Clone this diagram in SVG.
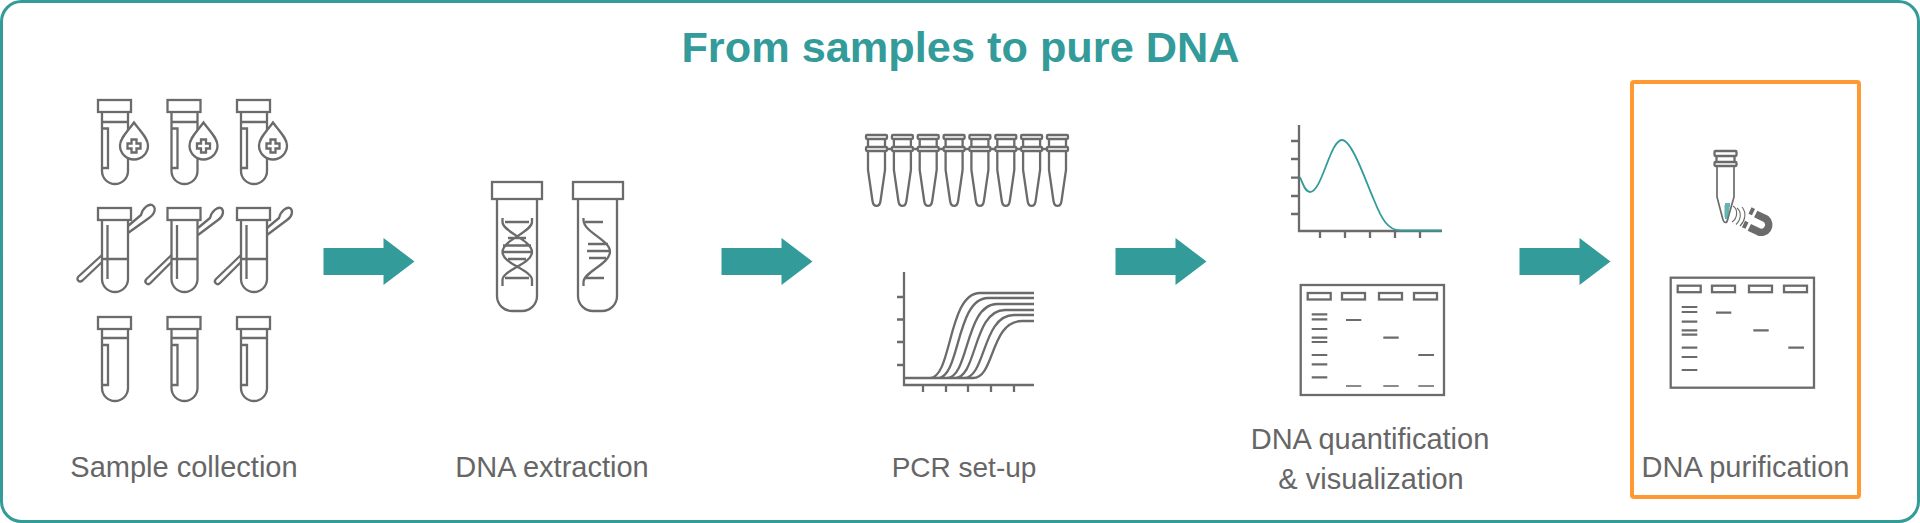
<svg xmlns="http://www.w3.org/2000/svg" xmlns:xlink="http://www.w3.org/1999/xlink" width="1920" height="523" viewBox="0 0 1920 523">
<style>
.l{fill:none;stroke:#6b6b6b;stroke-width:2.300}
.t{fill:none;stroke:#6b6b6b;stroke-width:1.700}
.lb{font-family:"Liberation Sans",Arial,sans-serif;font-size:29px;fill:#666;text-anchor:middle}
.b{stroke:#6b6b6b;stroke-width:2.200;fill:none}
.b2{stroke:#8a8a8a;stroke-width:1.800;fill:none}
</style>
<defs>
<g id="tube"><rect class="l" x="98" y="100" width="33" height="12"/><path class="l" d="M102 112V171A13 13 0 0 0 128 171V112M102 122H128"/></g>
<g id="blood"><use href="#tube"/><path class="l" d="M102 128.500H108V168H102"/><path d="M134 122.500C128 131 120 138 120 145.500A14 14 0 0 0 148 145.500C148 138 140 131 134 122.500Z" fill="#fff" stroke="#6b6b6b" stroke-width="2.300"/><path class="l" d="M131.500 139.500H136.500V143.500H140.500V148.500H136.500V152.500H131.500V148.500H127.500V143.500H131.500Z"/></g>
<g id="blank"><rect class="l" x="98" y="317" width="33" height="12"/><path class="l" d="M102 329V388A13 13 0 0 0 128 388V329M102 338H128M102 345H108V385H102"/></g>
<g id="swabtube"><rect class="l" x="98" y="208" width="33" height="12"/><path class="l" d="M102 220V279A13 13 0 0 0 128 279V220M102 259H128M107.500 225V279"/></g>
<g id="pcr"><rect class="l" x="866" y="135" width="21" height="4" rx="1"/><path class="l" d="M868 139V147M885 139V147"/><rect class="l" x="866" y="147" width="21" height="4" rx="1"/><path class="l" d="M868 151V170L872.500 201C873.500 207.500 879.500 207.500 880.500 201L885 170V151"/></g>
<g id="gel"><rect class="l" x="1300.700" y="285" width="143.300" height="110"/>
<g class="l"><rect x="1307.700" y="293" width="23" height="6.500"/><rect x="1342" y="293" width="23" height="6.500"/><rect x="1379" y="293" width="23" height="6.500"/><rect x="1414" y="293" width="23" height="6.500"/></g>
<path class="b" d="M1311.700 314.300H1327.300M1311.700 319.300H1327.300M1311.700 329H1327.300M1311.700 337.700H1327.300M1311.700 342H1327.300M1311.700 355H1327.300M1311.700 364.300H1327.300M1311.700 377.300H1327.300M1346 320H1361.300M1383.300 337.700H1398.700M1418.300 355H1434"/></g>
<path id="arrow" d="M323.500 248H383.500V238L414.500 261.500L383.500 285V275H323.500Z" fill="#339b99"/>
</defs>
<rect id="frame" x="1.500" y="1.500" width="1917" height="520" rx="20" fill="#fff" stroke="#339b99" stroke-width="3"/>
<text id="title" x="960.500" y="62" font-family="&quot;Liberation Sans&quot;,Arial,sans-serif" font-weight="700" font-size="43.300px" fill="#339b99" text-anchor="middle">From samples to pure DNA</text>
<g id="connectors"><use href="#arrow"/><use href="#arrow" x="398"/><use href="#arrow" x="792"/><use href="#arrow" x="1196"/></g>
<g id="sample-collection">
<use href="#blood"/><use href="#blood" x="69.500"/><use href="#blood" x="139"/>
<g id="swabs">
<g id="s1"><path class="l" d="M102 255L78.500 276.500C75.500 279.500 79.500 283 82.500 280.500L102 262"/><path class="l" d="M128 226L141 215C143 207 149 204 152 205C156 207 156 213 149 218L128 233"/></g>
<g id="s2"><path class="l" d="M171.500 255L146.500 279C143.500 282 147.500 286 150.500 283L171.500 262"/><path class="l" d="M198 228L210 218C212 210 218 207 221 208C224 210 224 216 218 220L198 235"/></g>
<g id="s3"><path class="l" d="M241 255L216 279C213 282 217 286 220 283L241 262"/><path class="l" d="M267 228L279 218C281 210 287 207 290 208C293 210 293 216 287 220L267 235"/></g>
</g>
<use href="#swabtube"/><use href="#swabtube" x="69.500"/><use href="#swabtube" x="139"/>
<use href="#blank"/><use href="#blank" x="69.500"/><use href="#blank" x="139"/>
<text class="lb" x="184" y="477">Sample collection</text>
</g>
<g id="dna-extraction">
<rect class="l" x="492" y="182" width="50" height="17"/><path class="l" d="M497 199V296A15 15 0 0 0 512 311H522A15 15 0 0 0 537 296V199"/>
<path class="l" d="M502.500 218V222C502.500 232 532 240 532 252C532 264 502.500 270 502.500 280V286M532 218V222C532 232 502.500 240 502.500 252C502.500 264 532 270 532 280V286M505 222H529M508 238H526M503 245.500H531M503 252H531M508 259H526M505 278H529"/>
<rect class="l" x="573" y="182" width="50" height="17"/><path class="l" d="M578 199V296A15 15 0 0 0 593 311H602A15 15 0 0 0 617 296V199"/>
<path class="l" d="M583.500 218V220C583.500 232 610 240 610 251.500C610 264 583.500 272 583.500 282V286M585 222H603M588 244H608M587 251H609M589 258H606M585 278H604"/>
<text class="lb" x="552" y="477">DNA extraction</text>
</g>
<g id="pcr-setup">
<path class="l" d="M887 149H892M913 149H918M939 149H944M965 149H970M991 149H996M1017 149H1022M1043 149H1048"/>
<use href="#pcr"/><use href="#pcr" x="25.900"/><use href="#pcr" x="51.700"/><use href="#pcr" x="77.600"/><use href="#pcr" x="103.400"/><use href="#pcr" x="129.300"/><use href="#pcr" x="155.100"/><use href="#pcr" x="181"/>
<path class="l" d="M904 272V385H1034M897 297H904M897 319.500H904M897 342H904M897 365H904M923 385V392M946 385V392M968 385V392M991 385V392M1014 385V392"/>
<path class="l" d="M904 378H930C952 378 948 293 980 293H1034M904 378H938C960 378 956 298 988 298H1034M904 378H947C969 378 965 304 997 304H1034M904 378H955C977 378 973 310 1005 310H1034M904 378H964C986 378 982 315 1014 315H1034M904 378H973C995 378 990 321 1022 321H1034"/>
<text class="lb" x="964" y="477" style="font-size:28px">PCR set-up</text>
</g>
<g id="quantification">
<path class="l" d="M1299 125V231H1442M1291 141H1299M1291 159H1299M1291 177.700H1299M1291 196H1299M1291 214H1299M1320 231V238M1345 231V238M1370 231V238M1395 231V238M1420 231V238"/>
<path d="M1300 177C1303 184 1305 192 1310 192C1322 192 1330 140 1342 140C1352 140 1366 182 1374 200C1382 220 1388 230 1400 230.500H1442" fill="none" stroke="#339b99" stroke-width="1.800"/>
<use href="#gel"/>
<path class="b2" d="M1346 386H1361.300M1383.300 386H1398.700M1418.300 386H1434"/>
<text class="lb" x="1370" y="449">DNA quantification</text>
<text class="lb" x="1371" y="489">&amp; visualization</text>
</g>
<g id="purification">
<rect x="1632" y="82" width="227" height="415" rx="2" fill="none" stroke="#ff9a33" stroke-width="4"/>
<rect class="l" x="1714.500" y="151" width="22" height="5" rx="1"/><path class="l" d="M1716.500 156V162M1734.500 156V162"/><rect class="l" x="1714.500" y="162" width="22" height="4" rx="1"/>
<path class="t" d="M1717 166V197L1722.500 218C1724 224 1727 224 1728 218L1734 197V166"/>
<path d="M1725 204H1730M1724.500 206H1730M1724.500 208H1729.500M1724.500 210H1729M1724.500 212H1729M1724.500 214H1728.500M1724.500 216H1728.500M1725 218H1728" stroke="#339b99" stroke-width="1.300" fill="none"/>
<path d="M1733 206C1738 209 1738 218 1732 222M1737 208C1742 212 1741 220 1736 224.500M1742 207C1747 213 1745 221 1740 226" fill="none" stroke="#6b6b6b" stroke-width="1.100"/>
<path d="M1750 210.500L1753.500 212.200M1743.500 224L1747 225.700" fill="none" stroke="#6b6b6b" stroke-width="7"/>
<path d="M1755.700 214L1766 219A7.500 7.500 0 0 1 1758.300 231.700L1749.300 227.300" fill="none" stroke="#6b6b6b" stroke-width="7.500"/>
<use href="#gel" x="370" y="-7.300"/>
<text class="lb" x="1745.500" y="477">DNA purification</text>
</g>
</svg>
